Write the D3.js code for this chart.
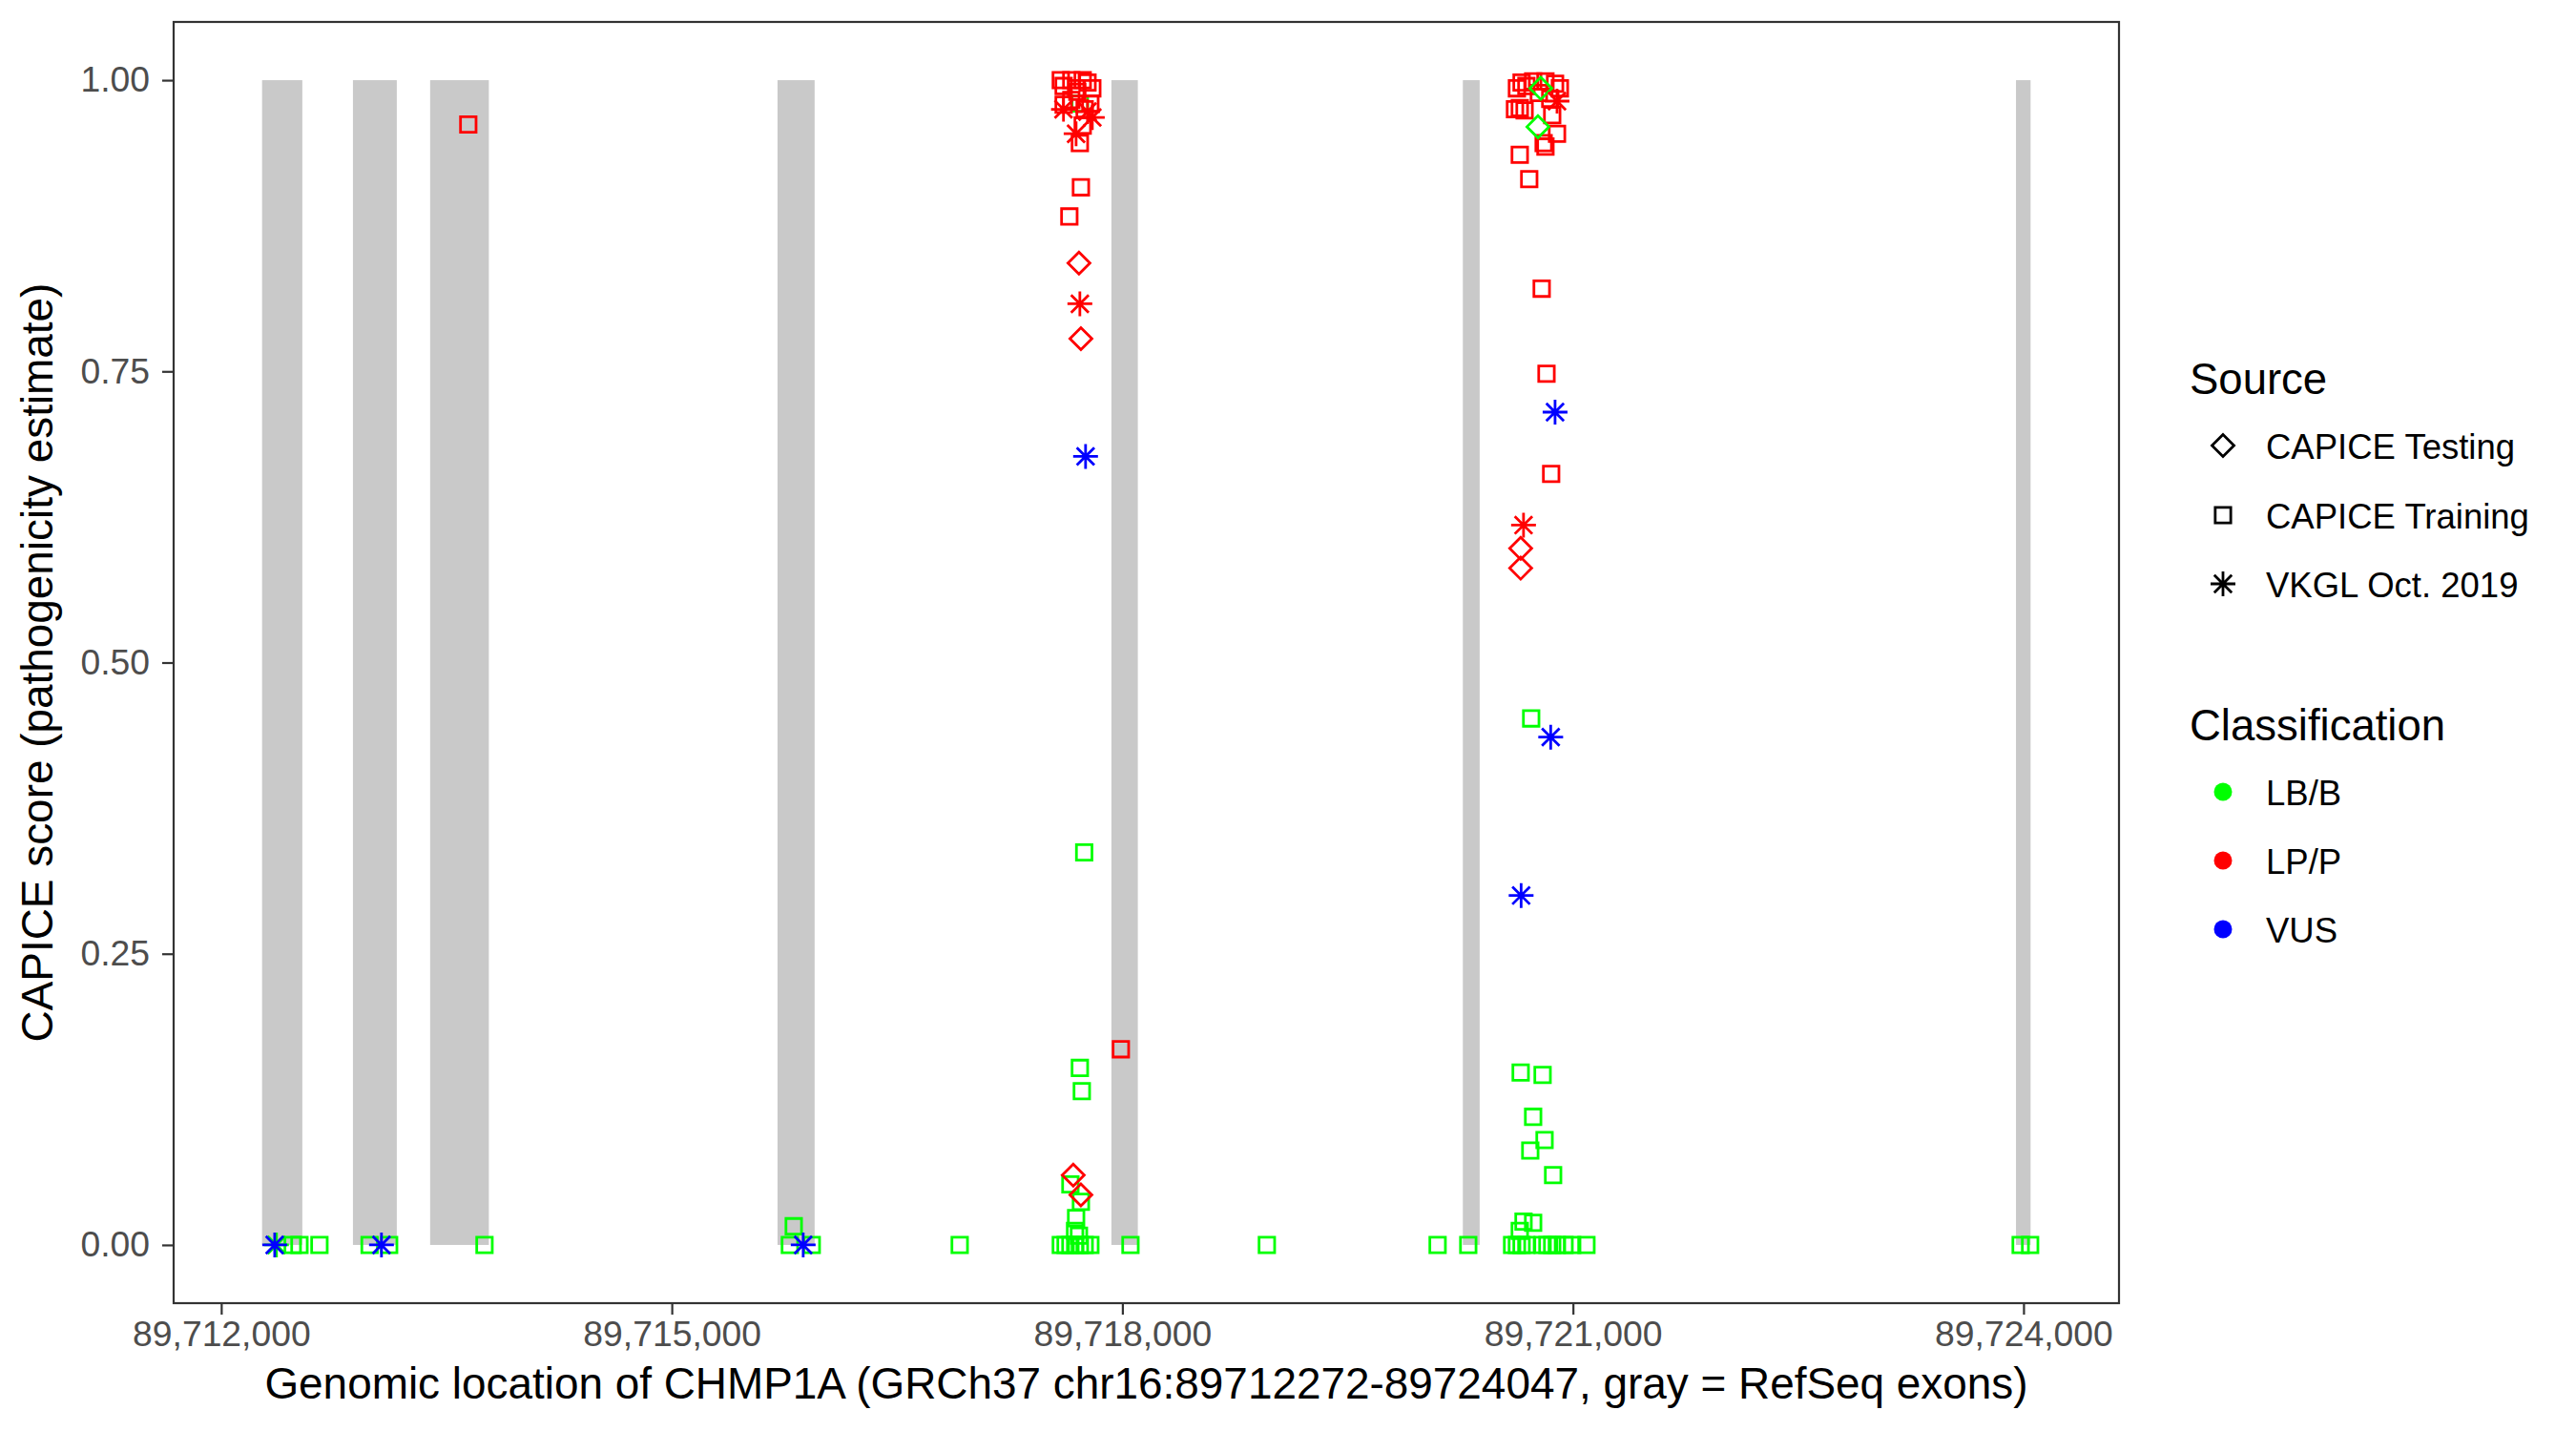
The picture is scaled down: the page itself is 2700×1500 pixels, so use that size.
<!DOCTYPE html>
<html><head><meta charset="utf-8">
<script src="https://cdn.jsdelivr.net/npm/d3@7"></script>
<style>body{margin:0;background:#fff} svg{display:block}</style>
</head><body>
<script>
// ---------- data ----------
const sources = ["CAPICE Testing", "CAPICE Training", "VKGL Oct. 2019"];
const classes = ["LB/B", "LP/P", "VUS"];
const classColors = ["#00FF00", "#FF0000", "#0000FF"];
const xTicks = [89712000, 89715000, 89718000, 89721000, 89724000];
const yTicks = [0, 0.25, 0.5, 0.75, 1];
const geneStart = 89712272, geneEnd = 89724047;
const exonStarts = [89712272, 89712877, 89713391, 89715704, 89717927, 89720267, 89723950];
const exonEnds   = [89712540, 89713169, 89713782, 89715951, 89718103, 89720379, 89724047];

// [position, score]
const trainingLBB = [
  [89717717,0.98],
  [89712476,0],[89712521,0],[89712654,0],[89712988,0],[89713118,0],[89713753,0],
  [89715812,0.016],[89715786,0],[89715932,0],[89716917,0],
  [89717746,0.337],[89717717,0.152],[89717730,0.132],[89717654,0.052],[89717724,0.037],
  [89717692,0.023],[89717685,0.012],[89717711,0.008],
  [89717590,0],[89717622,0],[89717654,0],[89717686,0],[89717717,0],[89717749,0],[89717787,0],
  [89718054,0],[89718962,0],[89720099,0],[89720303,0],
  [89720722,0.452],[89720652,0.148],[89720798,0.146],[89720735,0.110],[89720811,0.090],
  [89720716,0.081],[89720868,0.060],[89720671,0.020],[89720735,0.019],[89720646,0.012],
  [89720595,0],[89720627,0],[89720658,0],[89720690,0],[89720798,0],[89720830,0],
  [89720862,0],[89720893,0],[89720944,0],[89720995,0],[89721090,0],
  [89723981,0],[89724044,0]
];
const trainingLPP = [
  [89713645,0.962],[89717990,0.168],
  [89717609,0.995],[89717590,1.0],[89717736,1.0],[89717768,0.998],[89717800,0.993],
  [89717692,0.993],[89717787,0.980],[89717660,0.983],[89717609,0.979],[89717749,0.975],
  [89717736,0.961],[89717717,0.946],[89717724,0.908],[89717647,0.883],
  [89717660,1.0],[89717700,0.99],
  [89720658,0.998],[89720735,0.999],[89720817,0.999],[89720881,0.997],[89720913,0.993],
  [89720646,0.976],[89720678,0.974],[89720862,0.970],[89720894,0.954],[89720805,0.946],
  [89720817,0.943],[89720646,0.936],[89720709,0.915],
  [89720690,0.995],[89720773,0.989],[89720849,0.984],[89720627,0.993],[89720614,0.975],
  [89720792,0.821],[89720824,0.748],[89720855,0.662]
];
const testingLBB = [[89720786,0.993],[89720767,0.960]];
const testingLPP = [[89717711,0.843],[89717724,0.778],[89717673,0.060],[89717724,0.043],
  [89720652,0.598],[89720652,0.581]];
const vkglLBB = [[89712368,0]];
const vkglLPP = [[89717717,0.808],[89717608,0.975],[89717800,0.968],[89717692,0.954],
  [89717768,0.973],[89720671,0.618],[89720894,0.982]];
const vkglVUS = [[89712356,0],[89713067,0],[89715875,0],[89717755,0.677],[89720881,0.715],
  [89720852,0.436],[89720655,0.300]];

// ---------- layout ----------
const W = 2700, H = 1500;
const P = {left: 182, right: 2221, top: 23, bottom: 1366};
const FONT = "'Liberation Sans', Arial, Helvetica, sans-serif";
const span = geneEnd - geneStart;
const x = d3.scaleLinear().domain([geneStart - 0.05 * span, geneEnd + 0.05 * span]).range([P.left, P.right]);
const y = d3.scaleLinear().domain([-0.05, 1.05]).range([P.bottom, P.top]);

const R = 9.2, SW = 2.8;
const shapes = {
  "CAPICE Testing": r => { const d = 1.253 * r; return `M0,${-d}L${d},0L0,${d}L${-d},0Z`; },
  "CAPICE Training": r => { const h = 0.886 * r; return `M${-h},${-h}H${h}V${h}H${-h}Z`; },
  "VKGL Oct. 2019": r => { const a = r, p = Math.SQRT2 * r;
    return `M${-a},${-a}L${a},${a}M${-a},${a}L${a},${-a}M${-p},0L${p},0M0,${-p}L0,${p}`; }
};
const color = d3.scaleOrdinal().domain(classes).range(classColors);

const svg = d3.select("body").append("svg").attr("width", W).attr("height", H)
  .style("font-family", FONT);
svg.append("rect").attr("width", W).attr("height", H).attr("fill", "#fff");

// exons
svg.append("g").selectAll("rect").data(exonStarts.map((s, i) => [s, exonEnds[i]])).join("rect")
  .attr("x", d => x(d[0])).attr("width", d => x(d[1]) - x(d[0]))
  .attr("y", y(1)).attr("height", y(0) - y(1)).attr("fill", "#C9C9C9");

// points (drawing order: training, testing, VKGL)
const layers = [
  ["CAPICE Training", "LB/B", trainingLBB],
  ["CAPICE Training", "LP/P", trainingLPP],
  ["CAPICE Testing", "LB/B", testingLBB],
  ["CAPICE Testing", "LP/P", testingLPP],
  ["VKGL Oct. 2019", "LB/B", vkglLBB],
  ["VKGL Oct. 2019", "LP/P", vkglLPP],
  ["VKGL Oct. 2019", "VUS", vkglVUS]
];
const gp = svg.append("g");
layers.forEach(([src, cls, data]) => {
  gp.append("g").selectAll("path").data(data).join("path")
    .attr("transform", d => `translate(${x(d[0])},${y(d[1])})`)
    .attr("d", shapes[src](R))
    .attr("fill", "none").attr("stroke", color(cls)).attr("stroke-width", SW)
    .attr("stroke-linejoin", "miter");
});

// axes
const xAxis = svg.append("g").attr("transform", `translate(0,${P.bottom})`)
  .call(d3.axisBottom(x).tickValues(xTicks).tickFormat(d3.format(",")).tickSize(12).tickPadding(7).tickSizeOuter(0));
const yAxis = svg.append("g").attr("transform", `translate(${P.left},0)`)
  .call(d3.axisLeft(y).tickValues(yTicks).tickFormat(d3.format(".2f")).tickSize(12).tickPadding(13).tickSizeOuter(0));
[xAxis, yAxis].forEach(a => {
  a.select(".domain").remove();
  a.selectAll(".tick line").attr("stroke", "#333333").attr("stroke-width", 2.2);
  a.selectAll(".tick text").attr("fill", "#4D4D4D").style("font-size", "37.3px").style("font-family", FONT);
});

// panel border
svg.append("rect").attr("x", P.left).attr("y", P.top)
  .attr("width", P.right - P.left).attr("height", P.bottom - P.top)
  .attr("fill", "none").attr("stroke", "#333333").attr("stroke-width", 2.2);

// axis titles
svg.append("text").attr("x", (P.left + P.right) / 2).attr("y", 1466)
  .attr("text-anchor", "middle").style("font-size", "45.9px").attr("fill", "#000")
  .text("Genomic location of CHMP1A (GRCh37 chr16:89712272-89724047, gray = RefSeq exons)");
svg.append("text").attr("transform", `translate(55,${(P.top + P.bottom) / 2}) rotate(-90)`)
  .attr("text-anchor", "middle").style("font-size", "45.9px").attr("fill", "#000")
  .text("CAPICE score (pathogenicity estimate)");

// legends
const lg = svg.append("g");
lg.append("text").attr("x", 2295).attr("y", 413).style("font-size", "45.5px").text("Source");
const srcY = [467, 540, 612];
sources.forEach((s, i) => {
  lg.append("path").attr("transform", `translate(2330,${srcY[i]})`).attr("d", shapes[s](R))
    .attr("fill", "none").attr("stroke", "#000").attr("stroke-width", SW);
  lg.append("text").attr("x", 2375).attr("y", srcY[i] + 13.5).style("font-size", "36.5px").text(s);
});
lg.append("text").attr("x", 2295).attr("y", 776).style("font-size", "45.5px").text("Classification");
const clsY = [830, 902, 974];
classes.forEach((c, i) => {
  lg.append("circle").attr("cx", 2330).attr("cy", clsY[i]).attr("r", 9.5).attr("fill", color(c));
  lg.append("text").attr("x", 2375).attr("y", clsY[i] + 13.5).style("font-size", "36.5px").text(c);
});
</script>
</body></html>
